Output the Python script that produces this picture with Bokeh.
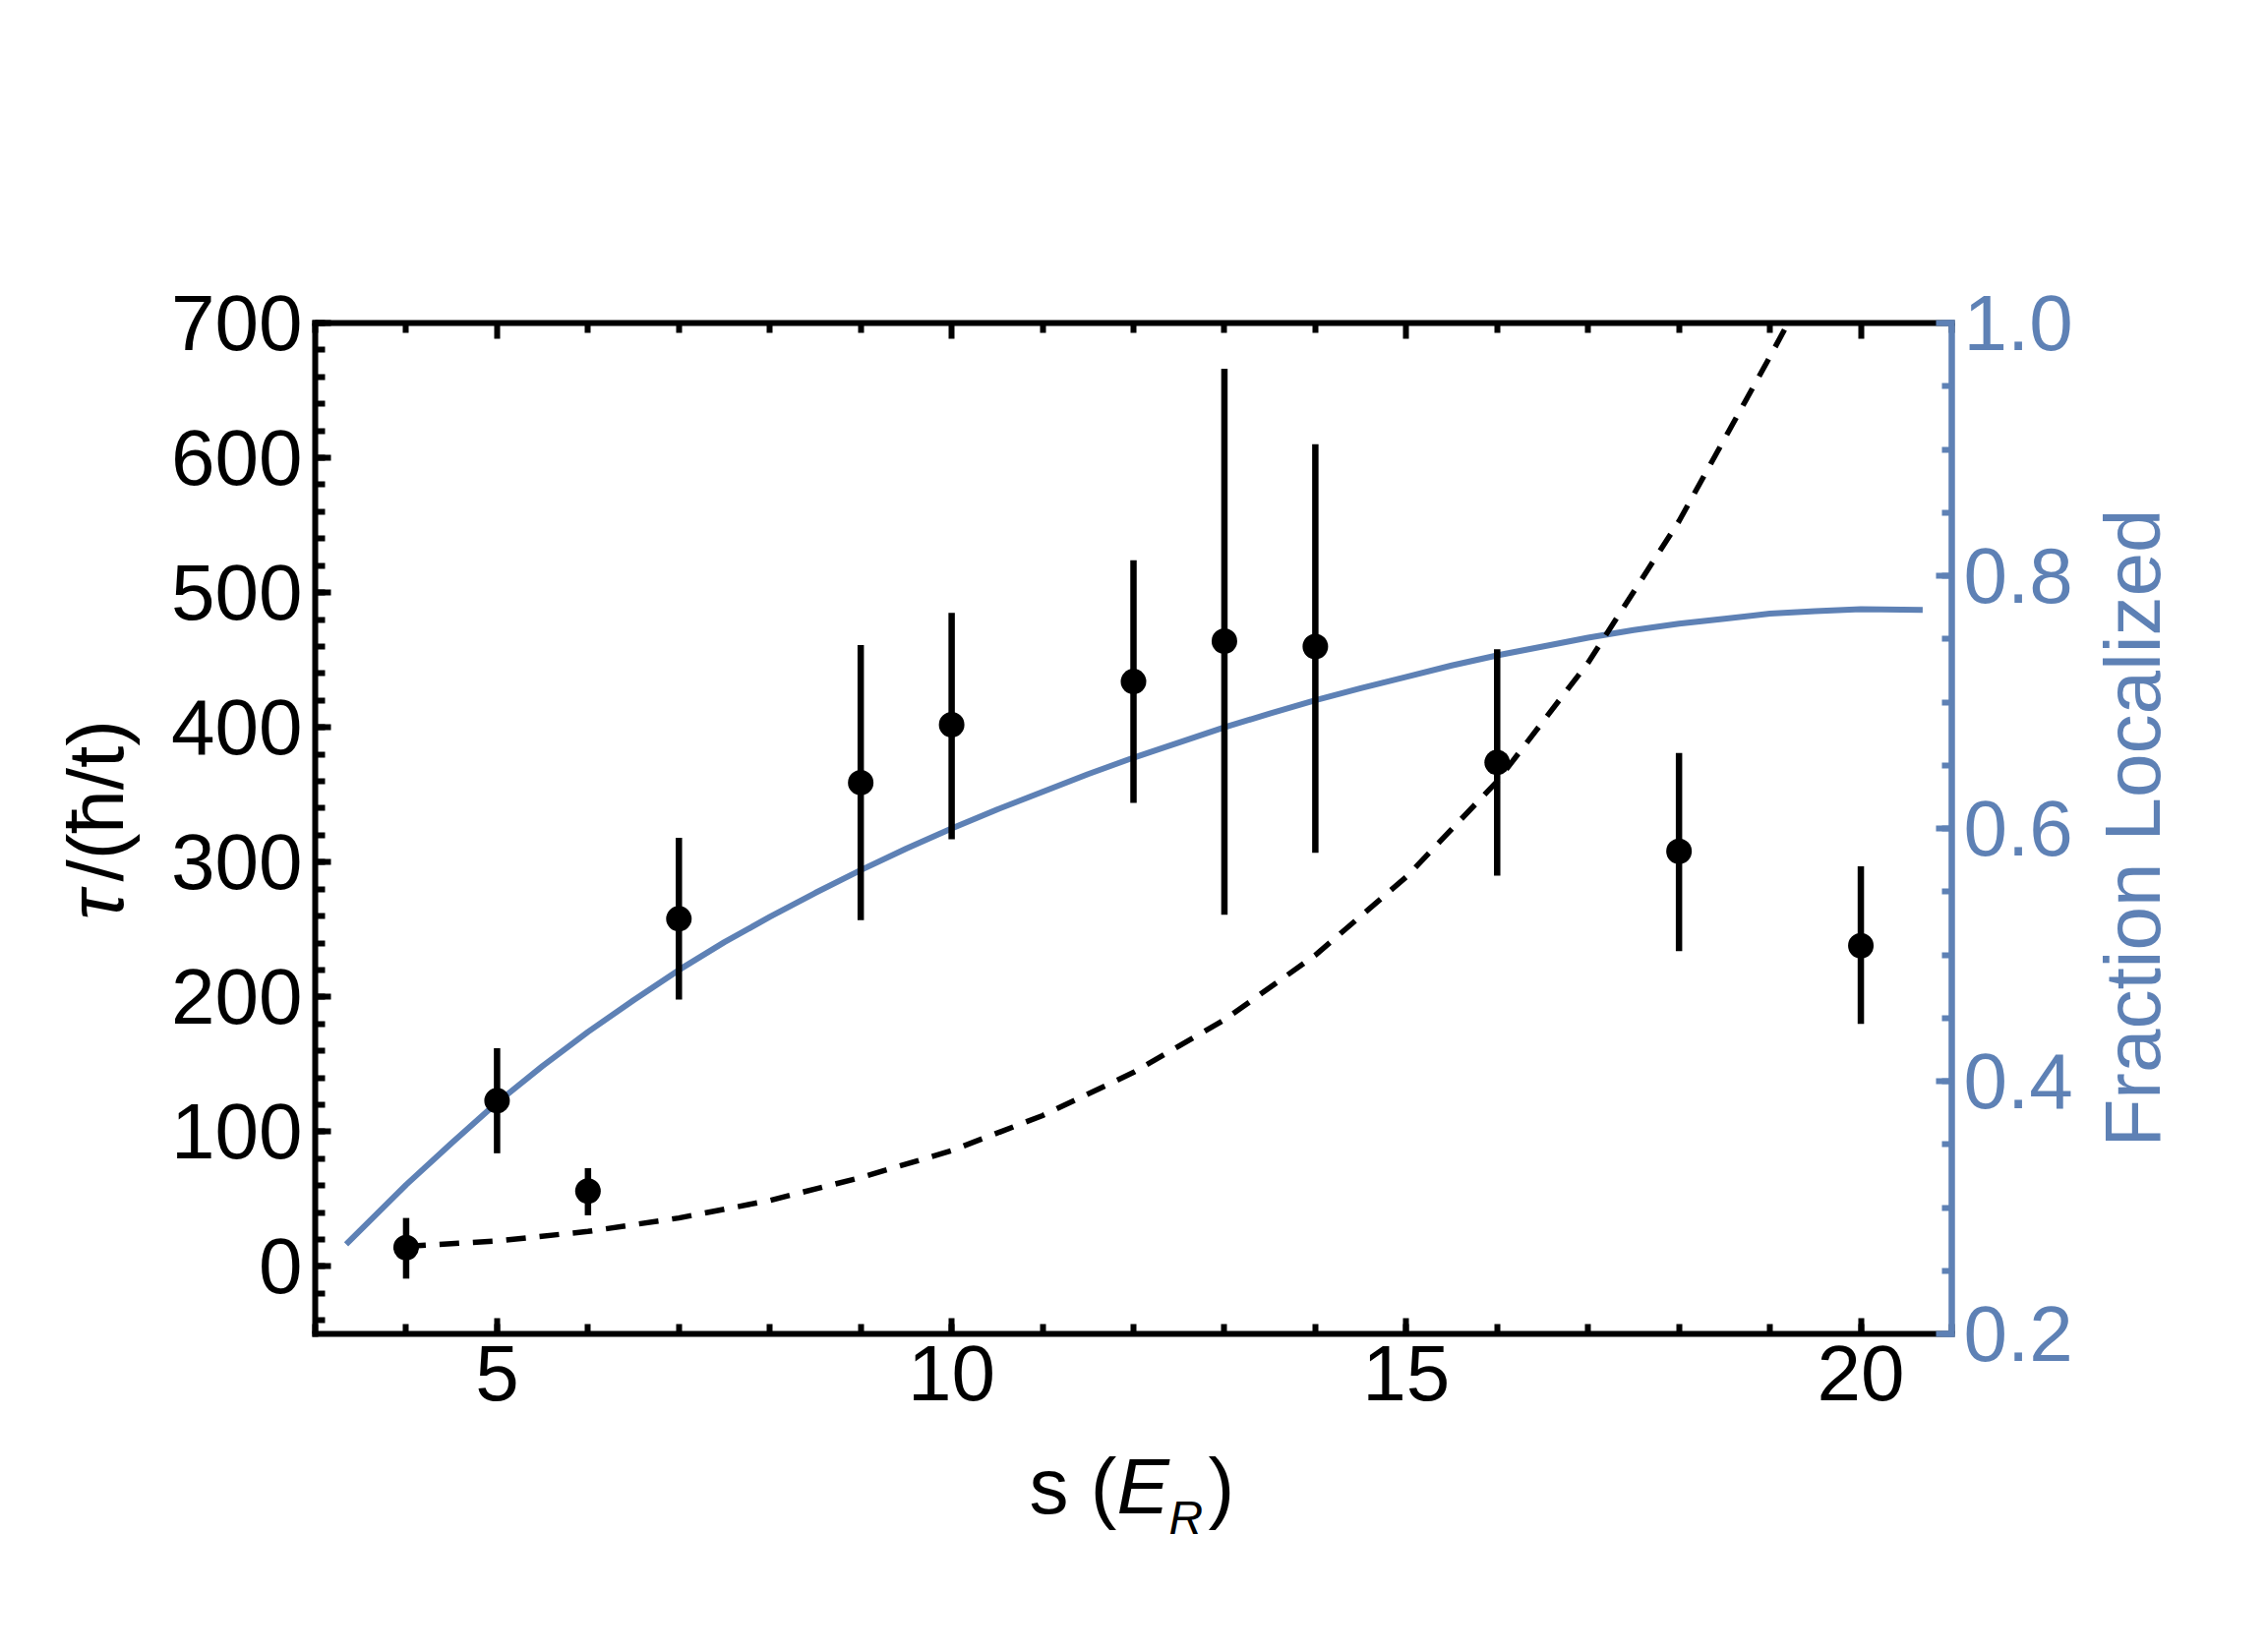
import math
from bokeh.plotting import figure
from bokeh.models import (LinearAxis, Range1d, FixedTicker, Label, ColumnDataSource,
                          NumeralTickFormatter)
from bokeh.embed import file_html
from bokeh.resources import INLINE

# ---------------- data ----------------
s_pts = [4, 5, 6, 7, 9, 10, 12, 13, 14, 16, 18, 20]
tau = [14, 123, 56, 258, 359, 402, 434, 464, 460, 374, 308, 238]
tau_hi = [36, 162, 73, 318, 461, 485, 524, 666, 610, 458, 381, 297]
tau_lo = [-9, 84, 38, 198, 257, 317, 344, 261, 307, 290, 234, 180]

# dashed model curve (left axis)
s_model = [4, 5, 6, 7, 8, 9, 10, 11, 12, 13, 14, 15, 16, 17, 18, 19, 19.2]
tau_model = [15, 19, 26, 36, 49, 66, 86, 112, 144, 183, 231, 289, 360, 448, 553, 675, 700]

# blue curve: fraction localized (right axis)
s_frac = [3.34, 4, 4.5, 5, 5.5, 6, 6.5, 7, 7.5, 8, 8.5, 9, 9.5, 10, 10.5, 11, 11.5, 12,
          12.5, 13, 13.5, 14, 14.5, 15, 15.5, 16, 16.5, 17, 17.5, 18, 18.5, 19, 19.5, 20, 20.68]
frac = [0.271, 0.318, 0.351, 0.383, 0.412, 0.439, 0.464, 0.488, 0.510, 0.530, 0.549, 0.567,
        0.584, 0.600, 0.615, 0.629, 0.643, 0.656, 0.668, 0.680, 0.691, 0.7015, 0.711, 0.720,
        0.729, 0.737, 0.744, 0.751, 0.757, 0.762, 0.766, 0.770, 0.772, 0.7735, 0.773]

x_major = [5, 10, 15, 20]
x_minor = [v for v in range(3, 22) if v not in (5, 10, 15, 20)]
x_minor_all = list(range(3, 22))
y_major = [0, 100, 200, 300, 400, 500, 600, 700]
y_minor = list(range(-40, 701, 20))
r_major = [0.2, 0.4, 0.6, 0.8, 1.0]
r_minor = [round(0.2 + 0.05 * i, 2) for i in range(17)]

X_MIN, X_MAX = 3, 21
Y_MIN, Y_MAX = -50, 700
R_MIN, R_MAX = 0.2, 1.0

BLUE = "#5E81B5"
FONT = "Liberation Sans"
FS = "80px"

W, H = 2288, 1664
OFF = 0
# plot box in picture coords
FX0, FX1, FY0, FY1 = 320, 1984, 328, 1356

def dx(px):
    return X_MIN + (px - FX0) / (FX1 - FX0) * (X_MAX - X_MIN)

def dy(py):
    return Y_MAX - (py - FY0) / (FY1 - FY0) * (Y_MAX - Y_MIN)

def dr(py):
    return R_MAX - (py - FY0) / (FY1 - FY0) * (R_MAX - R_MIN)

p = figure(width=W, height=H,
           x_range=Range1d(dx(OFF), dx(OFF + W)),
           y_range=Range1d(dy(OFF + H), dy(OFF)),
           output_backend="svg", toolbar_location=None, min_border=0,
           x_axis_type=None, y_axis_type=None)
p.extra_y_ranges = {"frac": Range1d(dr(OFF + H), dr(OFF))}
p.outline_line_color = None
p.background_fill_color = "white"
p.border_fill_color = "white"

LW = 6

def style_axis(ax, color, ticks, minors, lw=LW, major_in=16, minor_in=10):
    ax.ticker = FixedTicker(ticks=ticks, minor_ticks=minors)
    ax.axis_line_color = color
    ax.axis_line_width = lw
    ax.axis_line_cap = "square"
    ax.major_tick_line_color = color
    ax.minor_tick_line_color = color
    ax.major_tick_line_width = LW
    ax.minor_tick_line_width = LW
    ax.major_tick_in = major_in
    ax.major_tick_out = 0
    ax.minor_tick_in = minor_in
    ax.minor_tick_out = 0
    ax.major_label_text_font = FONT
    ax.major_label_text_font_size = FS
    ax.major_label_text_color = color

bottom = LinearAxis(fixed_location=Y_MIN, bounds=(X_MIN, X_MAX))
style_axis(bottom, "black", x_major, x_minor_all)
bottom.major_label_standoff = 12
p.add_layout(bottom, "below")

left = LinearAxis(fixed_location=X_MIN, bounds=(Y_MIN, Y_MAX))
style_axis(left, "black", y_major, y_minor)
left.major_label_standoff = 13
p.add_layout(left, "left")

# top frame edge: ticks only, no labels (majors drawn as long minor ticks)
top = LinearAxis(fixed_location=Y_MAX, bounds=(X_MIN, X_MAX))
style_axis(top, "black", [], x_minor)
p.add_layout(top, "above")
top2 = LinearAxis(fixed_location=Y_MAX, bounds=(X_MIN, X_MAX))
style_axis(top2, "black", [], x_major, minor_in=16)
top2.axis_line_color = None
p.add_layout(top2, "above")

right = LinearAxis(y_range_name="frac", fixed_location=X_MAX, bounds=(R_MIN, R_MAX))
style_axis(right, BLUE, r_major, r_minor, lw=6.5)
right.formatter = NumeralTickFormatter(format="0.0")
right.major_label_standoff = 12
p.add_layout(right, "right")

# curves
p.line(s_frac, frac, y_range_name="frac", line_color=BLUE, line_width=6)
p.line(s_model, tau_model, line_color="black", line_width=5.5, line_dash="20 14")

# data with error bars
src = ColumnDataSource(dict(s=s_pts, tau=tau, hi=tau_hi, lo=tau_lo))
p.segment(x0="s", y0="lo", x1="s", y1="hi", source=src, line_color="black", line_width=6.5)
p.scatter(x="s", y="tau", source=src, size=26, fill_color="black", line_color=None)

# axis titles (mixed styles) as annotations inside the (full-canvas) frame
SHIFT_H = 0.53  # empirical baseline correction (em), horizontal text
SHIFT_V = 0.45  # empirical baseline correction (em), rotated text

def lab(px, py, text, size=80, style="normal", color="black", rotated=False, align="left"):
    if rotated:
        px = px - SHIFT_V * size
    else:
        py = py - SHIFT_H * size
    p.add_layout(Label(x=dx(px), y=dy(py), text=text, text_font=FONT,
                       text_font_size=f"{size}px", text_font_style=style, text_color=color,
                       angle=(math.pi / 2 if rotated else 0.0),
                       text_align=align, text_baseline="alphabetic"))

lab(1046, 1553, "s (")
lab(1135, 1553, "E", style="italic")
lab(1188, 1568, "R", size=48, style="italic")
lab(1228, 1553, ")")

lab(133, 935, "τ", style="italic", rotated=True)
lab(133, 896, "/(ħ/t)", rotated=True)

lab(2204, 841.5, "Fraction Localized", color=BLUE, rotated=True, align="center")

open("out.html", "w").write(file_html(p, INLINE))
